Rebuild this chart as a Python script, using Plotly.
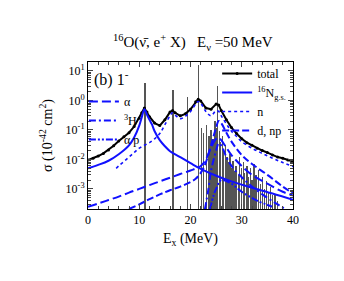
import plotly.graph_objects as go

# ---------------- data ----------------
tot_x = [0, 1, 2, 3, 4, 5, 6, 7, 8, 9, 10, 10.5, 11, 11.5, 12, 13, 14, 15, 16, 16.5, 17, 18, 19, 20,
         21, 21.5, 22, 23, 24, 25, 25.5, 26, 27, 28, 29, 30, 31, 32, 33, 34, 35, 36, 37, 38, 39, 40]
tot_y = [0.0095, 0.011, 0.013, 0.016, 0.021, 0.029, 0.042, 0.058, 0.08, 0.13, 0.25, 0.38, 0.55, 0.4,
         0.28, 0.17, 0.14, 0.22, 0.4, 0.45, 0.38, 0.3, 0.35, 0.5, 0.9, 1.1, 0.95, 0.55, 0.5, 0.75,
         0.7, 0.45, 0.22, 0.12, 0.075, 0.05, 0.037, 0.03, 0.024, 0.02, 0.017, 0.014, 0.012, 0.011,
         0.0095, 0.0085]

gs_x = [0, 2, 4, 6, 8, 9, 10, 10.5, 11, 11.5, 12, 12.5, 13, 14, 15, 16, 18, 20, 22, 25, 28, 32, 36, 40]
gs_y = [0.005, 0.0065, 0.009, 0.015, 0.03, 0.055, 0.14, 0.27, 0.5, 0.33, 0.22, 0.15, 0.09, 0.045,
        0.028, 0.019, 0.012, 0.0075, 0.0048, 0.0028, 0.0018, 0.0011, 0.0007, 0.00043]

n_x = [5.5, 6, 7, 8, 9, 10, 11, 12, 13, 14, 15, 16, 16.5, 17, 18, 19, 20, 21, 21.5, 22, 23, 24, 25,
       25.5, 26, 27, 28, 29, 30, 32, 34, 36, 38, 40]
n_y = [0.005, 0.006, 0.0085, 0.012, 0.017, 0.024, 0.03, 0.037, 0.05, 0.075, 0.15, 0.3, 0.38, 0.32,
       0.24, 0.29, 0.42, 0.75, 0.92, 0.8, 0.42, 0.3, 0.45, 0.42, 0.3, 0.16, 0.09, 0.06, 0.04, 0.024,
       0.016, 0.011, 0.0078, 0.0057]

alpha_x = [0, 2, 4, 6, 8, 10, 12, 14, 16, 18, 20, 22, 23, 24, 25, 25.5, 26, 27, 28, 30, 32, 35, 38, 40]
alpha_y = [0.00025, 0.00032, 0.00042, 0.00055, 0.00075, 0.001, 0.00135, 0.0018, 0.0024, 0.0032,
           0.0042, 0.006, 0.01, 0.025, 0.05, 0.055, 0.045, 0.025, 0.014, 0.006, 0.003, 0.0015,
           0.0008, 0.0006]

dnp_x = [8, 10, 12, 14, 16, 18, 20, 21, 22, 23, 24, 25, 25.5, 26, 27, 28, 30, 32, 35, 38, 40]
dnp_y = [0.00021, 0.0003, 0.00045, 0.00065, 0.0009, 0.0012, 0.0017, 0.0022, 0.0035, 0.008, 0.03,
         0.12, 0.2, 0.17, 0.08, 0.04, 0.014, 0.007, 0.003, 0.0012, 0.0007]

h3_x = [22.8, 23.5, 24, 25, 25.5, 26, 27, 28, 30, 32, 35, 37, 38.5]
h3_y = [0.0002, 0.001, 0.004, 0.02, 0.035, 0.03, 0.012, 0.006, 0.0025, 0.0012, 0.0005, 0.0003, 0.00021]

ap_x = [23.8, 24.5, 25, 26, 28, 30, 33, 36]
ap_y = [0.0002, 0.0006, 0.001, 0.002, 0.0015, 0.0008, 0.0004, 0.00025]

stick_x = [11.1, 16.6, 19.4, 21.6, 25.3,
           22.1, 22.6, 23.1, 23.6, 24.0, 24.4, 24.8, 25.0, 25.6, 25.9, 26.2, 26.5, 26.8, 27.1,
           27.4, 27.7, 28.0, 28.3, 28.6, 28.9, 29.3, 29.6, 29.9, 30.3, 30.6, 31.0, 31.3, 31.7,
           32.0, 32.4, 32.8, 33.2, 33.6, 34.0, 34.4, 34.8, 35.2, 35.6, 36.0, 36.5, 37.0]
stick_y = [3.8, 2.2, 1.35, 16, 3.0,
           0.12, 0.08, 0.15, 0.06, 0.1, 0.05, 0.2, 0.12, 0.09, 0.04, 0.06, 0.02, 0.03, 0.012,
           0.008, 0.015, 0.005, 0.009, 0.004, 0.006, 0.003, 0.012, 0.005, 0.008, 0.0035, 0.006,
           0.0025, 0.005, 0.002, 0.007, 0.003, 0.0045, 0.0015, 0.0025, 0.001, 0.0018, 0.0008,
           0.0012, 0.0006, 0.0007, 0.0004]

y_tickvals = [1e-3, 1e-2, 1e-1, 1, 10]
y_ticktext = ["10<sup>-3</sup>", "10<sup>-2</sup>", "10<sup>-1</sup>", "10<sup>0</sup>", "10<sup>1</sup>"]

# ---------------- figure ----------------
BLUE = "#1010ff"
FONT = "Liberation Serif"

fig = go.Figure()

fig.add_trace(go.Bar(x=stick_x, y=stick_y, width=0.055, marker=dict(color="#555555", line=dict(width=0)),
                     showlegend=False, hoverinfo="skip"))

fig.add_trace(go.Scatter(x=tot_x, y=tot_y, mode="lines+markers", name="total",
                         line=dict(color="black", width=2), marker=dict(color="black", size=3),
                         legend="legend"))
fig.add_trace(go.Scatter(x=gs_x, y=gs_y, mode="lines", name="<sup>16</sup>N<sub>g.s.</sub>",
                         line=dict(color=BLUE, width=2, shape="spline"), legend="legend"))
fig.add_trace(go.Scatter(x=n_x, y=n_y, mode="lines", name="n",
                         line=dict(color=BLUE, width=1.6, dash="dot", shape="spline"), legend="legend"))
fig.add_trace(go.Scatter(x=dnp_x, y=dnp_y, mode="lines", name="d, np",
                         line=dict(color=BLUE, width=2, dash="7px,3px", shape="spline"), legend="legend"))

fig.add_trace(go.Scatter(x=alpha_x, y=alpha_y, mode="lines", name="α",
                         line=dict(color=BLUE, width=2, dash="9px,4px", shape="spline"), legend="legend2"))
fig.add_trace(go.Scatter(x=h3_x, y=h3_y, mode="lines", name="<sup>3</sup>H",
                         line=dict(color=BLUE, width=2, dash="7px,3px,2px,3px", shape="spline"),
                         legend="legend2"))
fig.add_trace(go.Scatter(x=ap_x, y=ap_y, mode="lines", name="α p",
                         line=dict(color=BLUE, width=2, dash="7px,2px,2px,2px,2px,2px", shape="spline"),
                         legend="legend2"))

minor_y = [k * 10.0 ** e for e in range(-4, 2) for k in range(2, 10)]

fig.update_layout(
    width=336, height=273,
    margin=dict(l=80, r=51, t=54, b=72, autoexpand=False),
    paper_bgcolor="white", plot_bgcolor="white",
    font=dict(family=FONT, size=12, color="black"),
    bargap=0,
    legend=dict(x=0.63, y=1.02, xanchor="left", yanchor="top", bgcolor="rgba(0,0,0,0)",
                font=dict(family=FONT, size=12), tracegroupgap=0, itemwidth=30),
    legend2=dict(x=-0.02, y=0.83, xanchor="left", yanchor="top", bgcolor="rgba(0,0,0,0)",
                 font=dict(family=FONT, size=12), tracegroupgap=0, itemwidth=30),
    title=dict(text="<sup>16</sup>O(ν̄, e<sup>+</sup> X)   E<sub>ν</sub> =50 MeV",
               x=0.55, xanchor="center", y=0.875, yanchor="middle",
               font=dict(family=FONT, size=15)),
    xaxis=dict(range=[0, 40], dtick=10, tick0=0, ticks="inside", ticklen=5, showline=True,
               linecolor="black", linewidth=1, mirror="ticks", showgrid=False, zeroline=False,
               tickfont=dict(family=FONT, size=12),
               minor=dict(dtick=2, ticks="inside", ticklen=3, showgrid=False),
               title=dict(text="E<sub>x</sub> (MeV)", font=dict(family=FONT, size=14), standoff=6)),
    yaxis=dict(type="log", range=[-3.68, 1.3], tickmode="array", tickvals=y_tickvals,
               ticktext=y_ticktext, ticks="inside", ticklen=5, showline=True, linecolor="black",
               linewidth=1, mirror="ticks", showgrid=False, zeroline=False,
               tickfont=dict(family=FONT, size=12),
               minor=dict(tickmode="array", tickvals=minor_y, ticks="inside", ticklen=3, showgrid=False),
               title=dict(text="σ (10<sup>-42</sup> cm<sup>2</sup>)", font=dict(family=FONT, size=14),
                          standoff=9)),
    annotations=[dict(text="(b) 1<sup>-</sup>", xref="paper", yref="paper", x=0.02, y=0.97,
                      xanchor="left", yanchor="top", showarrow=False,
                      font=dict(family=FONT, size=16))],
)

fig.write_html("out.html")
